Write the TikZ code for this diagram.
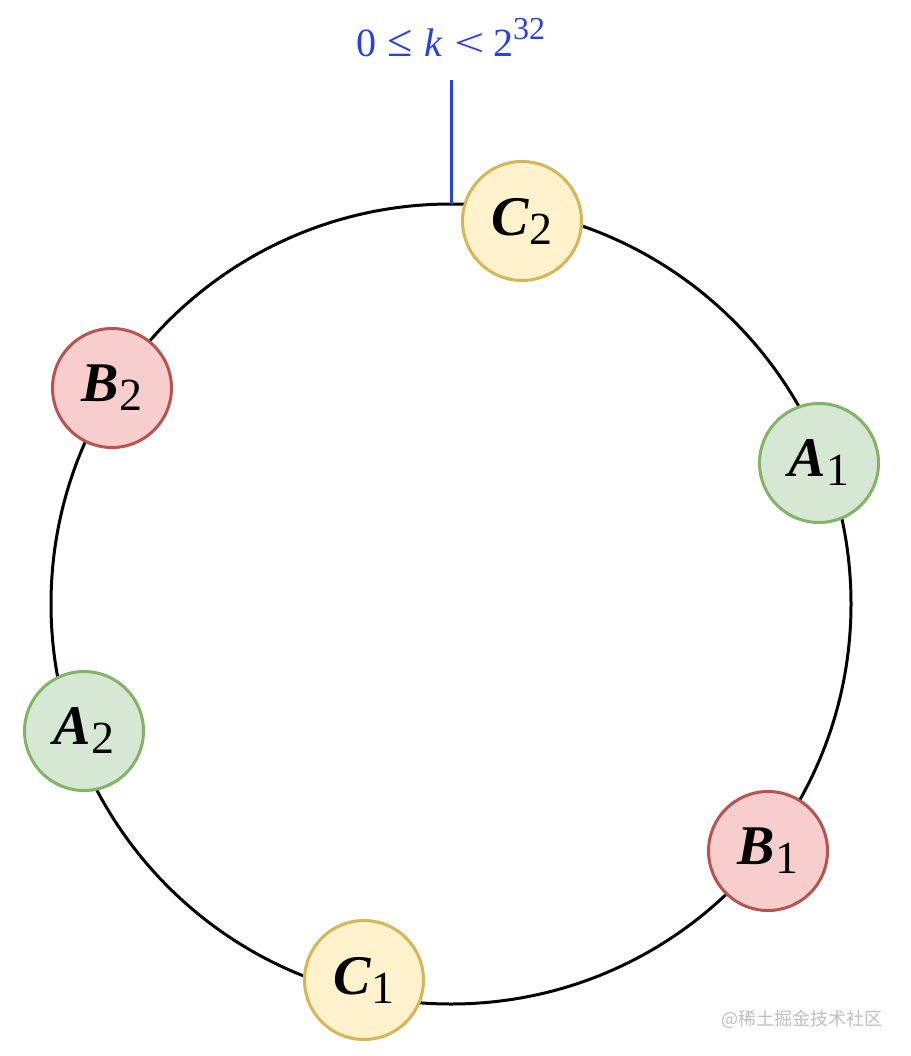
\documentclass[tikz,border=0pt]{standalone}
\usepackage{fontspec}
\usepackage{graphicx}
\setmainfont{Liberation Serif}
\newfontfamily\cjk{Noto Sans CJK SC}
\definecolor{yfill}{HTML}{FFF2CC}\definecolor{ydraw}{HTML}{D6B656}
\definecolor{gfill}{HTML}{D5E8D4}\definecolor{gdraw}{HTML}{82B366}
\definecolor{rfill}{HTML}{F8CECC}\definecolor{rdraw}{HTML}{B85450}
\definecolor{kblue}{HTML}{2A40E0}
\newcommand{\lbl}[2]{\fontsize{56}{56}\selectfont\textbf{\textit{#1}}\raisebox{-9pt}{\fontsize{46}{46}\selectfont #2}}
\begin{document}
\begin{tikzpicture}[x=1pt,y=-1pt,
  nodebase/.style={circle,line width=3pt,minimum size=119pt,inner sep=0pt},
  ynode/.style={nodebase,draw=ydraw,fill=yfill},
  gnode/.style={nodebase,draw=gdraw,fill=gfill},
  rnode/.style={nodebase,draw=rdraw,fill=rfill}]
\useasboundingbox (0,0) rectangle (910,1056);
\fill[white] (0,0) rectangle (910,1056);
\draw[line width=3pt] (451,604) circle[radius=400pt];
\coordinate (top) at (451,204);
\coordinate (ltop) at (451,80);
\draw[kblue,line width=3pt] (top) -- (ltop);
\node[kblue,font=\fontsize{40}{40}\selectfont,anchor=base] (lab) at (451,57) {0\hspace{11pt}{\fontsize{46}{46}\selectfont ≤}\hspace{11pt}\textit{k}\hspace{12pt}\scalebox{1.35}[1]{<}\hspace{8pt}2\raisebox{17pt}{\fontsize{32}{32}\selectfont 32}};
\node[ynode] (C2) at (522,221) {\lbl{C}{2}};
\node[rnode] (B2) at (112,388) {\lbl{B}{2}};
\node[gnode] (A1) at (819,463) {\lbl{A}{1}};
\node[gnode] (A2) at (84,731) {\lbl{A}{2}};
\node[rnode] (B1) at (768,851) {\lbl{B}{1}};
\node[ynode] (C1) at (364,980) {\lbl{C}{1}};
\node[text=black!25,font=\cjk\fontsize{18}{18}\selectfont] (wm) at (802,1019) {@稀土掘金技术社区};
\end{tikzpicture}
\end{document}
